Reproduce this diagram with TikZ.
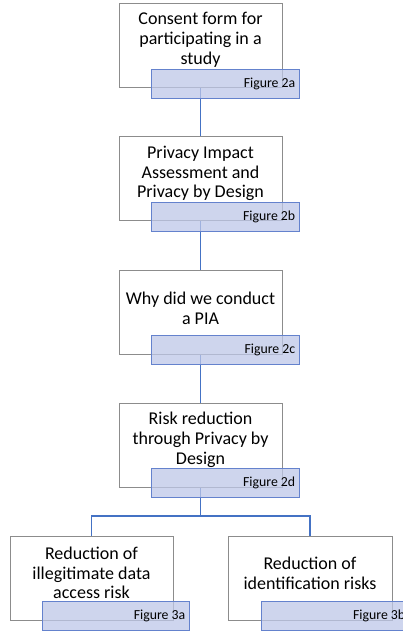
\documentclass[tikz,border=0pt]{standalone}
\usepackage{fontspec}
\setmainfont{Carlito}
\usetikzlibrary{backgrounds}
\definecolor{boxgray}{RGB}{140,140,140}
\definecolor{conblue}{RGB}{68,114,196}
\definecolor{labblue}{RGB}{100,130,205}
\definecolor{labfill}{RGB}{190,199,232}
\begin{document}
\begin{tikzpicture}[x=1pt,y=-1pt,
  mainbox/.style={draw=boxgray,line width=0.9pt,fill=white,minimum width=163pt,minimum height=84pt,inner sep=0pt},
  maintext/.style={align=center,font=\fontsize{18}{19.8}\selectfont,inner sep=0pt},
  figlabel/.style={draw=labblue,line width=0.9pt,fill=labfill,fill opacity=0.75,text opacity=1,minimum width=148pt,minimum height=29pt,inner sep=0pt},
  figtext/.style={anchor=east,font=\fontsize{13.8}{15}\selectfont,inner sep=0pt},
  conn/.style={draw=conblue,line width=1.7pt}]
\useasboundingbox (0,0) rectangle (403,631);
\node[mainbox] (b1) at (200.5,45) {};
\node[mainbox] (b2) at (200.5,178.5) {};
\node[mainbox] (b3) at (200.5,312) {};
\node[mainbox] (b4) at (200.5,445) {};
\node[mainbox] (b5) at (91.5,578.5) {};
\node[mainbox,minimum width=164pt] (b6) at (310,578.5) {};
\node[maintext] (t1) at (200.5,40) {Consent form for\\participating in a\\study};
\node[maintext] (t2) at (200.5,173.5) {Privacy Impact\\Assessment and\\Privacy by Design};
\node[maintext] (t3) at (200.5,308) {Why did we conduct\\a PIA};
\node[maintext] (t4) at (200.5,440) {Risk reduction\\through Privacy by\\Design};
\node[maintext] (t5) at (91.5,573) {Reduction of\\illegitimate data\\access risk};
\node[maintext] (t6) at (310,573) {Reduction of\\identification risks};
\node[figlabel] (l1) at (225,83.5) {};
\node[figlabel] (l2) at (225,216.5) {};
\node[figlabel] (l3) at (225,349.5) {};
\node[figlabel] (l4) at (225,483) {};
\node[figlabel,minimum width=147pt] (l5) at (115.5,615.5) {};
\node[figlabel] (l6) at (335,615.5) {};
\node[figtext] (f1) at ([xshift=-4pt]l1.east) {Figure 2a};
\node[figtext] (f2) at ([xshift=-4pt]l2.east) {Figure 2b};
\node[figtext] (f3) at ([xshift=-4pt]l3.east) {Figure 2c};
\node[figtext] (f4) at ([xshift=-4pt]l4.east) {Figure 2d};
\node[figtext] (f5) at ([xshift=-4pt]l5.east) {Figure 3a};
\node[figtext] (f6) at ([xshift=-4pt]l6.east) {Figure 3b};
\coordinate (j) at (200.5,516);
\begin{scope}[on background layer]
\draw[conn] (b1.south) -- (b2.north);
\draw[conn] (b2.south) -- (b3.north);
\draw[conn] (b3.south) -- (b4.north);
\draw[conn] (b4.south) -- (j) -| (b5.north);
\draw[conn] (j) -| (b6.north);
\end{scope}
\end{tikzpicture}
\end{document}
